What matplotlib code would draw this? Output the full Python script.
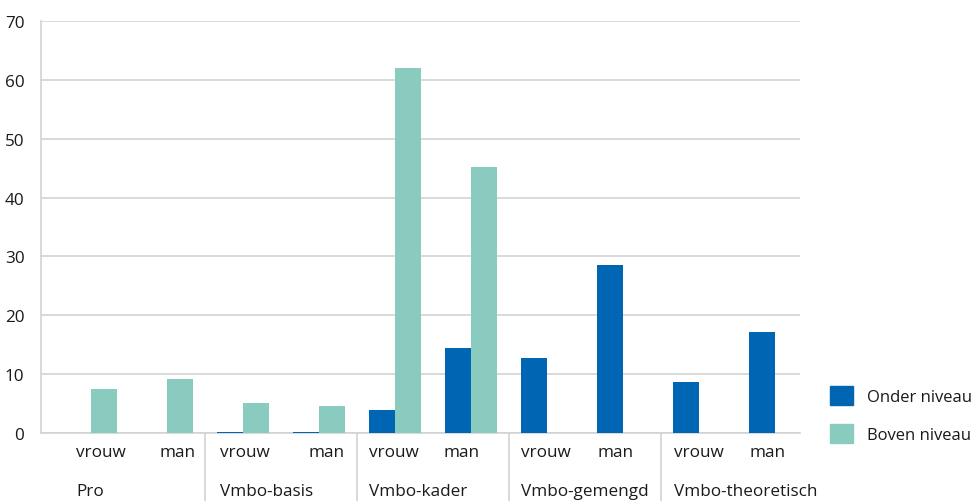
import numpy as np
import matplotlib
matplotlib.use("Agg")
import matplotlib.pyplot as plt
import matplotlib.transforms as mtransforms
from matplotlib.patches import Patch

# data
categories = ["Pro", "Vmbo-basis", "Vmbo-kader", "Vmbo-gemengd", "Vmbo-theoretisch"]
sexes = ["vrouw", "man"]
onder_niveau = [0.0, 0.0, 0.2, 0.1, 3.9, 14.4, 12.7, 28.5, 8.7, 17.2]
boven_niveau = [7.5, 9.2, 5.1, 4.6, 62.0, 45.2, 0.0, 0.0, 0.0, 0.0]
y_ticks = [0, 10, 20, 30, 40, 50, 60, 70]

blue = "#0066b3"
teal = "#89cbbf"
grid_grey = "#d3d3d3"
text_col = "#1a1a1a"

plt.rcParams["font.family"] = ["Open Sans", "DejaVu Sans"]
plt.rcParams["font.size"] = 12.3

fig = plt.figure(figsize=(9.79, 5.02), dpi=100)
W, H = 979, 502
ax = fig.add_axes([41 / W, (H - 434) / H, 759 / W, 412 / H])

x = np.arange(len(onder_niveau))
bw = 0.342
ax.bar(x - bw / 2, onder_niveau, width=bw, color=blue, zorder=3)
ax.bar(x + bw / 2, boven_niveau, width=bw, color=teal, zorder=3)

ax.set_xlim(-0.658, 9.329)
ax.set_ylim(0, 70)
ax.set_yticks(y_ticks)
ax.yaxis.grid(True, color=grid_grey, linewidth=1.2, zorder=0)
ax.tick_params(axis="y", length=0, pad=12, colors=text_col, labelsize=12.3)
ax.tick_params(axis="x", length=0)
ax.set_xticks([])

for side in ["top", "right"]:
    ax.spines[side].set_visible(False)
for side in ["left", "bottom"]:
    ax.spines[side].set_color(grid_grey)
    ax.spines[side].set_linewidth(1.2)

# sex labels and category labels beneath the axis
trans = mtransforms.blended_transform_factory(ax.transData, ax.transAxes)
n_sex = len(sexes)
# small nudges (in slot units) so the labels sit where the reference has them
label_nudge = [0.13, 0.14, 0.03, 0.1, -0.01, -0.12, -0.01, -0.1, 0.0, -0.1]
sex_texts = []
for i in range(len(x)):
    t = ax.text(x[i] + label_nudge[i], -0.045, sexes[i % n_sex], transform=trans,
                ha="center", va="center", color=text_col)
    sex_texts.append(t)

fig.canvas.draw()
renderer = fig.canvas.get_renderer()
inv = ax.transData.inverted()
for g, cat in enumerate(categories):
    # category label starts where its "vrouw" label starts
    bb = sex_texts[g * n_sex].get_window_extent(renderer)
    x0 = inv.transform((bb.x0, 0))[0]
    ax.text(x0, -0.15, cat, transform=trans,
            ha="left", va="baseline", color=text_col)
    if g > 0:
        ax.plot([g * n_sex - 0.5] * 2, [0, -0.2], transform=trans,
                color=grid_grey, linewidth=1.2, clip_on=False)

handles = [Patch(color=blue, label="Onder niveau"),
           Patch(color=teal, label="Boven niveau")]
fig.legend(handles=handles, loc="upper left", bbox_to_anchor=(815 / W, 1 - 372 / H),
           frameon=False, handlelength=1.4, handleheight=1.4, handletextpad=0.8,
           labelspacing=1.1, fontsize=12.0, labelcolor=text_col)

fig.savefig("out.png", dpi=100)
